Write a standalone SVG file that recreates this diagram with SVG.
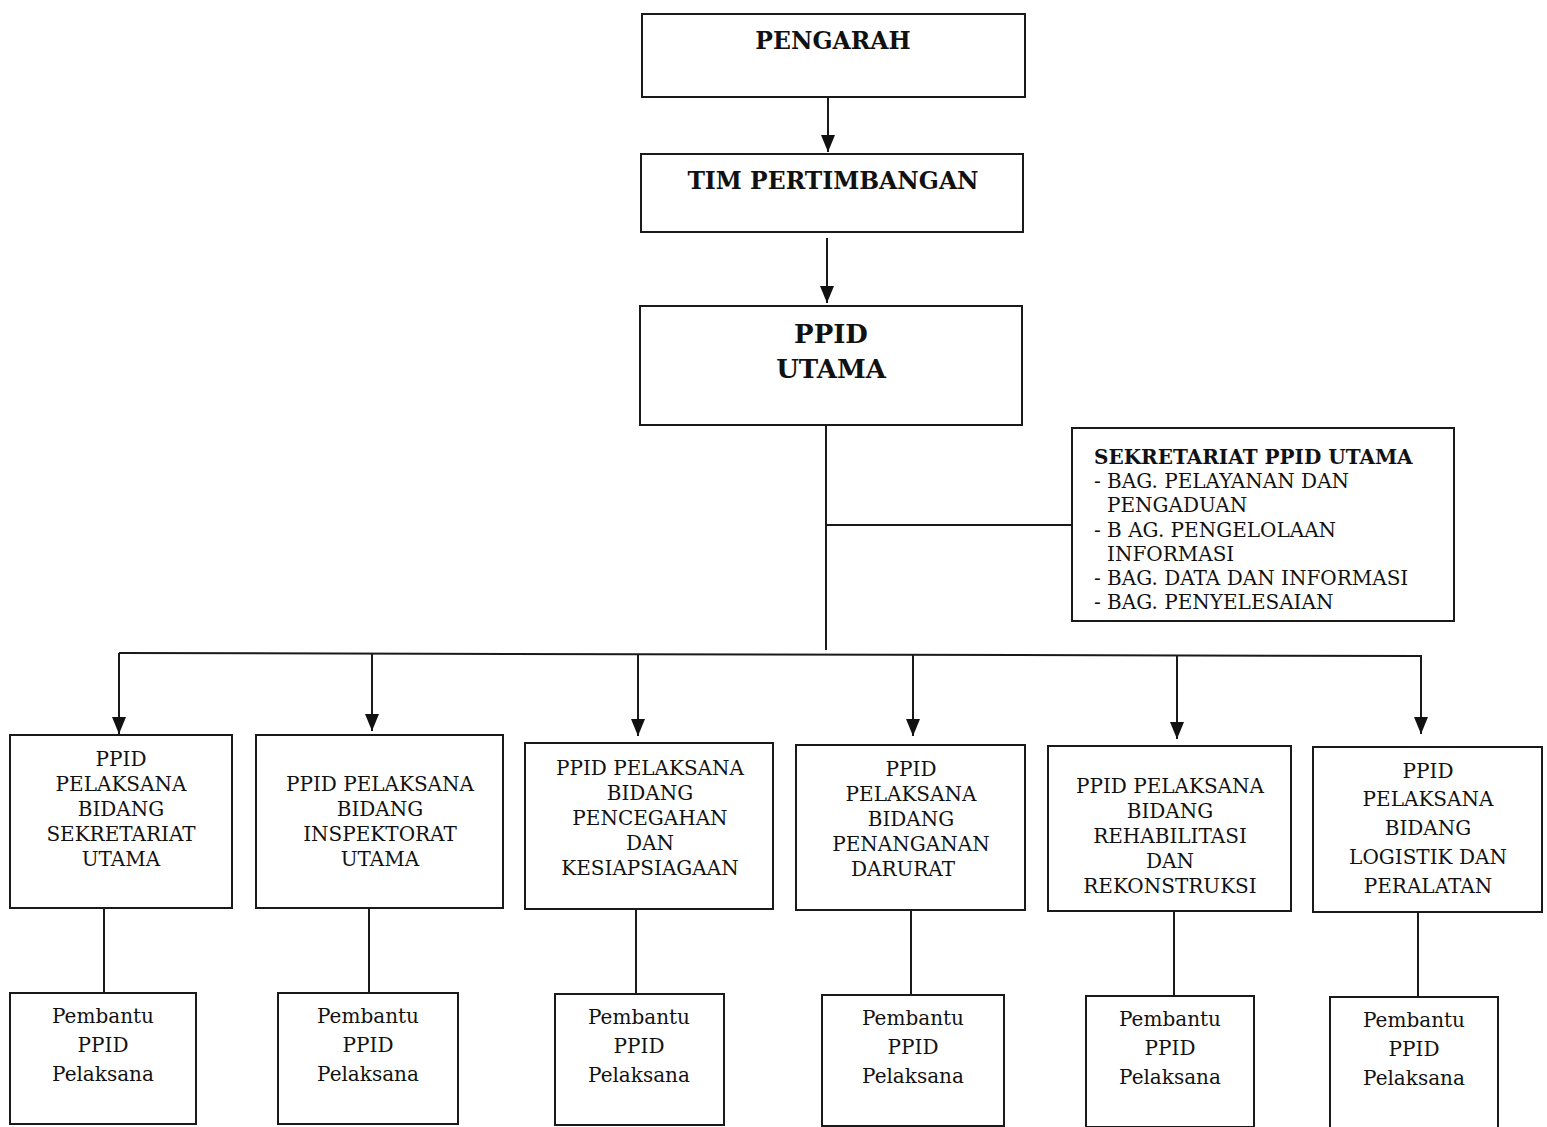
<svg xmlns="http://www.w3.org/2000/svg" width="1547" height="1127" viewBox="0 0 1547 1127">
<style>
.box{fill:#fff;stroke:#1a1a1a;stroke-width:2}
.ln{fill:none;stroke:#1a1a1a;stroke-width:2}
.t{font-family:"DejaVu Serif","Liberation Serif",serif;font-size:20px;fill:#111;text-anchor:middle}
.b{font-family:"DejaVu Serif","Liberation Serif",serif;font-weight:bold;fill:#111;text-anchor:middle}
.s{font-family:"DejaVu Serif","Liberation Serif",serif;font-size:20px;fill:#111}
</style>
<defs>
<marker id="arr" markerUnits="userSpaceOnUse" markerWidth="18" markerHeight="16" refX="17" refY="8" orient="auto" viewBox="0 0 18 16">
<path d="M0,1 L17,8 L0,15 Z" fill="#111"/>
</marker>
</defs>
<rect width="1547" height="1127" fill="#fff"/>

<g id="connectors">
<line class="ln" x1="828" y1="97" x2="828" y2="152" marker-end="url(#arr)"/>
<line class="ln" x1="827" y1="238" x2="827" y2="303" marker-end="url(#arr)"/>
<line class="ln" x1="826" y1="425" x2="826" y2="650"/>
<line class="ln" x1="826" y1="525" x2="1072" y2="525"/>
<polyline class="ln" points="119,653 1421,656 1421,734" marker-end="url(#arr)"/>
<line class="ln" x1="119" y1="653" x2="119" y2="734" marker-end="url(#arr)"/>
<line class="ln" x1="372" y1="654" x2="372" y2="731" marker-end="url(#arr)"/>
<line class="ln" x1="638" y1="654" x2="638" y2="736" marker-end="url(#arr)"/>
<line class="ln" x1="913" y1="655" x2="913" y2="736" marker-end="url(#arr)"/>
<line class="ln" x1="1177" y1="655" x2="1177" y2="739" marker-end="url(#arr)"/>
<line class="ln" x1="104" y1="908" x2="104" y2="993"/>
<line class="ln" x1="369" y1="908" x2="369" y2="993"/>
<line class="ln" x1="636" y1="909" x2="636" y2="994"/>
<line class="ln" x1="911" y1="910" x2="911" y2="995"/>
<line class="ln" x1="1174" y1="911" x2="1174" y2="996"/>
<line class="ln" x1="1418" y1="912" x2="1418" y2="997"/>
</g>

<g id="pengarah">
<rect class="box" x="642" y="14" width="383" height="83"/>
<text class="b" x="833" y="49" font-size="23.5">PENGARAH</text>
</g>

<g id="tim-pertimbangan">
<rect class="box" x="641" y="154" width="382" height="78"/>
<text class="b" x="833" y="189" font-size="23.5">TIM PERTIMBANGAN</text>
</g>

<g id="ppid-utama">
<rect class="box" x="640" y="306" width="382" height="119"/>
<text class="b" x="831" y="343" font-size="26">PPID</text>
<text class="b" x="831" y="378" font-size="26">UTAMA</text>
</g>

<g id="sekretariat">
<rect class="box" x="1072" y="428" width="382" height="193"/>
<text class="s" x="1094" y="464" font-weight="bold" font-size="19">SEKRETARIAT PPID UTAMA</text>
<text class="s" x="1094" y="488">- BAG. PELAYANAN DAN</text>
<text class="s" x="1107" y="512">PENGADUAN</text>
<text class="s" x="1094" y="537">- B AG. PENGELOLAAN</text>
<text class="s" x="1107" y="561">INFORMASI</text>
<text class="s" x="1094" y="585">- BAG. DATA DAN INFORMASI</text>
<text class="s" x="1094" y="609">- BAG. PENYELESAIAN</text>
</g>

<g id="pelaksana-sekretariat">
<rect class="box" x="10" y="735" width="222" height="173"/>
<text class="t" x="121" y="766">PPID</text>
<text class="t" x="121" y="791">PELAKSANA</text>
<text class="t" x="121" y="816">BIDANG</text>
<text class="t" x="121" y="841">SEKRETARIAT</text>
<text class="t" x="121" y="866">UTAMA</text>
</g>

<g id="pelaksana-inspektorat">
<rect class="box" x="256" y="735" width="247" height="173"/>
<text class="t" x="380" y="791">PPID PELAKSANA</text>
<text class="t" x="380" y="816">BIDANG</text>
<text class="t" x="380" y="841">INSPEKTORAT</text>
<text class="t" x="380" y="866">UTAMA</text>
</g>

<g id="pelaksana-pencegahan">
<rect class="box" x="525" y="743" width="248" height="166"/>
<text class="t" x="650" y="775">PPID PELAKSANA</text>
<text class="t" x="650" y="800">BIDANG</text>
<text class="t" x="650" y="825">PENCEGAHAN</text>
<text class="t" x="650" y="850">DAN</text>
<text class="t" x="650" y="875">KESIAPSIAGAAN</text>
</g>

<g id="pelaksana-penanganan">
<rect class="box" x="796" y="745" width="229" height="165"/>
<text class="t" x="911" y="776">PPID</text>
<text class="t" x="911" y="801">PELAKSANA</text>
<text class="t" x="911" y="826">BIDANG</text>
<text class="t" x="911" y="851">PENANGANAN</text>
<text class="t" x="903" y="876">DARURAT</text>
</g>

<g id="pelaksana-rehabilitasi">
<rect class="box" x="1048" y="746" width="243" height="165"/>
<text class="t" x="1170" y="793">PPID PELAKSANA</text>
<text class="t" x="1170" y="818">BIDANG</text>
<text class="t" x="1170" y="843">REHABILITASI</text>
<text class="t" x="1170" y="868">DAN</text>
<text class="t" x="1170" y="893">REKONSTRUKSI</text>
</g>

<g id="pelaksana-logistik">
<rect class="box" x="1313" y="747" width="229" height="165"/>
<text class="t" x="1428" y="778">PPID</text>
<text class="t" x="1428" y="806">PELAKSANA</text>
<text class="t" x="1428" y="835">BIDANG</text>
<text class="t" x="1428" y="864">LOGISTIK DAN</text>
<text class="t" x="1428" y="893">PERALATAN</text>
</g>

<g id="pembantu-1">
<rect class="box" x="10" y="993" width="186" height="131"/>
<text class="t" x="103" y="1023">Pembantu</text>
<text class="t" x="103" y="1052">PPID</text>
<text class="t" x="103" y="1081">Pelaksana</text>
</g>
<g id="pembantu-2">
<rect class="box" x="278" y="993" width="180" height="131"/>
<text class="t" x="368" y="1023">Pembantu</text>
<text class="t" x="368" y="1052">PPID</text>
<text class="t" x="368" y="1081">Pelaksana</text>
</g>
<g id="pembantu-3">
<rect class="box" x="555" y="994" width="169" height="131"/>
<text class="t" x="639" y="1024">Pembantu</text>
<text class="t" x="639" y="1053">PPID</text>
<text class="t" x="639" y="1082">Pelaksana</text>
</g>
<g id="pembantu-4">
<rect class="box" x="822" y="995" width="182" height="131"/>
<text class="t" x="913" y="1025">Pembantu</text>
<text class="t" x="913" y="1054">PPID</text>
<text class="t" x="913" y="1083">Pelaksana</text>
</g>
<g id="pembantu-5">
<rect class="box" x="1086" y="996" width="168" height="131"/>
<text class="t" x="1170" y="1026">Pembantu</text>
<text class="t" x="1170" y="1055">PPID</text>
<text class="t" x="1170" y="1084">Pelaksana</text>
</g>
<g id="pembantu-6">
<rect class="box" x="1330" y="997" width="168" height="135"/>
<text class="t" x="1414" y="1027">Pembantu</text>
<text class="t" x="1414" y="1056">PPID</text>
<text class="t" x="1414" y="1085">Pelaksana</text>
</g>
</svg>
